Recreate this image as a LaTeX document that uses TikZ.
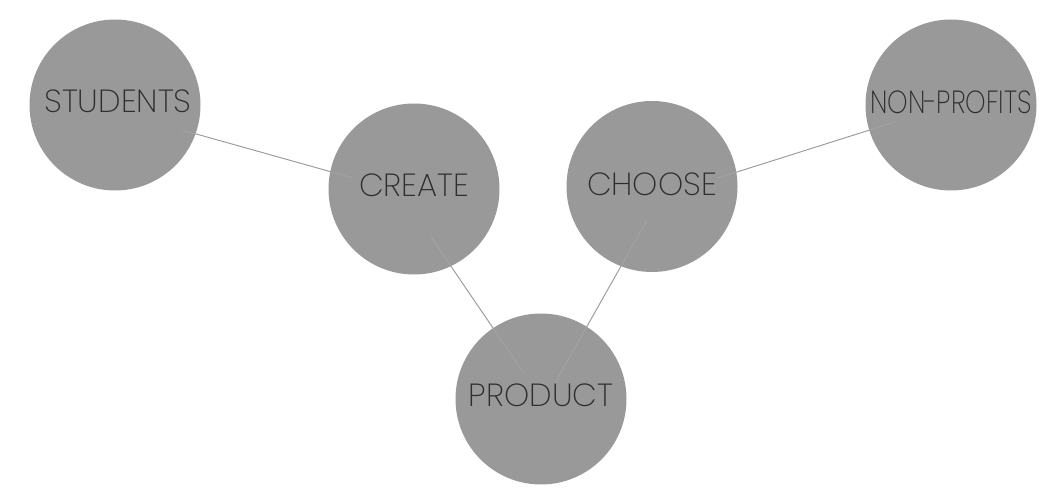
\documentclass[tikz,border=0pt]{standalone}
\usepackage{fontspec}
\usetikzlibrary{calc}
\newfontfamily\bubblefont{Poppins ExtraLight}
\definecolor{bubblegray}{HTML}{999999}
\definecolor{linkgray}{HTML}{8E8E8E}
\definecolor{labelgray}{HTML}{2E2E2E}
\begin{document}
\begin{tikzpicture}[x=1pt,y=-1pt,
  bubble/.style={circle,fill=bubblegray,draw=none,minimum size=171pt,inner sep=0pt},
  bubblelabel/.style={font=\bubblefont\fontsize{32}{32}\selectfont,text=labelgray,inner sep=0pt,anchor=center},
  link/.style={draw=linkgray,line width=0.9pt},
  linkglow/.style={draw=white,draw opacity=0.1,line width=0.9pt}]
\useasboundingbox (0,0) rectangle (1053,502);
% link end points, tucked inside the bubbles
\coordinate (s1) at (182,130);
\coordinate (c1) at (353,178);
\coordinate (c2) at (431,237);
\coordinate (p1) at (523,372);
\coordinate (h1) at (647,220);
\coordinate (p2) at (555,383);
\coordinate (h2) at (718,178);
\coordinate (n1) at (895,122);
% links behind the bubbles
\draw[link] (s1) -- (c1);
\draw[link] (c2) -- (p1);
\draw[link] (h1) -- (p2);
\draw[link] (h2) -- (n1);
% bubbles
\node[bubble] (students) at (115,105) {};
\node[bubble] (create) at (414,189) {};
\node[bubble] (choose) at (652,186.5) {};
\node[bubble] (nonprofits) at (951,105) {};
\node[bubble] (product) at (541,399) {};
% faint trace of the links across the bubbles
\draw[linkglow] (s1) -- (c1);
\draw[linkglow] (c2) -- (p1);
\draw[linkglow] (h1) -- (p2);
\draw[linkglow] (h2) -- (n1);
% labels
\node[bubblelabel] (tstudents) at ($(students.center)+(3,-4)$) {STUDENTS};
\node[bubblelabel] (tcreate) at ($(create.center)+(0,-3.5)$) {CREATE};
\node[bubblelabel] (tchoose) at ($(choose.center)+(0,-2.5)$) {CHOOSE};
\node[bubblelabel] (tnonprofits) at ($(nonprofits.center)+(0,-2.5)$) {\scalebox{0.815}[1]{NON\kern-1pt-\kern-1ptPROFITS}};
\node[bubblelabel] (tproduct) at ($(product.center)+(0,-3.5)$) {PRODUCT};
\end{tikzpicture}
\end{document}
